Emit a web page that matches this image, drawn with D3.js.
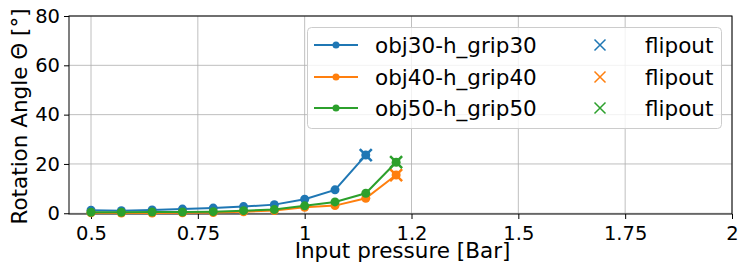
<!DOCTYPE html>
<html>
<head>
<meta charset="utf-8">
<script src="https://cdn.jsdelivr.net/npm/d3@7"></script>
<style>
  body { margin: 0; background: #fff; }
  svg { display: block; font-family: "DejaVu Sans", sans-serif; }
</style>
</head>
<body>
<div class="container"></div>
<script>
const WIDTH = 748;
const HEIGHT = 278;
const LEFT = 69, RIGHT = 732, TOP = 16, BOTTOM = 214;

// input pressure [Bar]
var pressure = [0.5, 0.571, 0.643, 0.714, 0.786, 0.857, 0.929, 1.0, 1.071, 1.143, 1.214];
var obj30 = [1.2, 1.05, 1.3, 1.7, 2.1, 2.7, 3.5, 5.7, 9.5, 23.6];
var obj40 = [0.2, 0.1, 0.1, 0.2, 0.3, 0.6, 1.1, 2.4, 3.1, 6.1, 15.5];
var obj50 = [0.4, 0.4, 0.5, 0.5, 0.65, 1.05, 1.5, 3.0, 4.6, 8.1, 20.7];
var seriesNames = ["obj30-h_grip30", "obj40-h_grip40", "obj50-h_grip50"];
var colors = ["#1f77b4", "#ff7f0e", "#2ca02c"];
// flipout points: [pressure, angle]
var flipout = [[1.143, 23.6], [1.214, 15.5], [1.214, 20.7]];
var xTicks = [0.5, 0.75, 1, 1.25, 1.5, 1.75, 2];
var xTickLabels = ["0.5", "0.75", "1", "1.2", "1.5", "1.75", "2"];
var yTicks = [0, 20, 40, 60, 80];

var x = d3.scaleLinear().domain([0.4485, 2]).range([LEFT, RIGHT]);
var y = d3.scaleLinear().domain([-0.3, 80]).range([BOTTOM, TOP]);

var svg = d3.select(".container").append("svg")
    .attr("width", WIDTH)
    .attr("height", HEIGHT);

// grid
svg.append("g").selectAll("line").data(xTicks).enter().append("line")
    .attr("x1", d => x(d)).attr("x2", d => x(d))
    .attr("y1", TOP).attr("y2", BOTTOM)
    .attr("stroke", "#b0b0b0").attr("stroke-width", 1).attr("opacity", 0.8);
svg.append("g").selectAll("line").data(yTicks).enter().append("line")
    .attr("x1", LEFT).attr("x2", RIGHT)
    .attr("y1", d => y(d)).attr("y2", d => y(d))
    .attr("stroke", "#b0b0b0").attr("stroke-width", 1).attr("opacity", 0.8);

// axes
var xAxis = svg.append("g")
    .attr("transform", "translate(0," + BOTTOM + ")")
    .call(d3.axisBottom(x).tickValues(xTicks)
        .tickFormat((d, i) => xTickLabels[i]).tickSizeOuter(0).tickSize(5).tickPadding(7));
var yAxis = svg.append("g")
    .attr("transform", "translate(" + LEFT + ",0)")
    .call(d3.axisLeft(y).tickValues(yTicks).tickSizeOuter(0).tickSize(5).tickPadding(4));
[xAxis, yAxis].forEach(function(g){
    g.select(".domain").remove();
    g.selectAll("text").attr("font-size", 19.5).attr("font-family", "DejaVu Sans").attr("fill", "#000");
    g.selectAll("line").attr("stroke", "#000");
});

// spines
svg.append("rect")
    .attr("x", LEFT).attr("y", TOP)
    .attr("width", RIGHT - LEFT).attr("height", BOTTOM - TOP)
    .attr("fill", "none").attr("stroke", "#000").attr("stroke-width", 1);

// flipout crosses
function cross(g, cx, cy, s, color, w){
    g.append("path")
        .attr("d", "M" + (cx - s) + "," + (cy - s) + "L" + (cx + s) + "," + (cy + s) +
                   "M" + (cx - s) + "," + (cy + s) + "L" + (cx + s) + "," + (cy - s))
        .attr("stroke", color).attr("stroke-width", w).attr("fill", "none");
}
var fg = svg.append("g");
flipout.forEach(function(p, i){ cross(fg, x(p[0]), y(p[1]), 6, colors[i], 2.5); });

// lines
var allSeries = [obj30, obj40, obj50];
var line = d3.line().x((d, i) => x(pressure[i])).y(d => y(d));
allSeries.forEach(function(vals, s){
    var g = svg.append("g");
    g.append("path").datum(vals)
        .attr("d", line)
        .attr("fill", "none").attr("stroke", colors[s]).attr("stroke-width", 2);
    g.selectAll("circle").data(vals).enter().append("circle")
        .attr("cx", (d, i) => x(pressure[i])).attr("cy", d => y(d))
        .attr("r", 4.5).attr("fill", colors[s]);
});

// legend
var lg = svg.append("g");
lg.append("rect")
    .attr("x", 307.5).attr("y", 27.5).attr("width", 414).attr("height", 101)
    .attr("rx", 4).attr("fill", "#fff").attr("fill-opacity", 0.8)
    .attr("stroke", "#cccccc").attr("stroke-width", 1);
var rowY = [45, 77, 108];
seriesNames.forEach(function(name, i){
    var yy = rowY[i];
    lg.append("line").attr("x1", 314).attr("x2", 358).attr("y1", yy).attr("y2", yy)
        .attr("stroke", colors[i]).attr("stroke-width", 2);
    lg.append("circle").attr("cx", 336).attr("cy", yy).attr("r", 3.5).attr("fill", colors[i]);
    lg.append("text").attr("x", 375).attr("y", yy + 7.5)
        .attr("font-size", 21.5).text(name);
    cross(lg, 600, yy, 5.5, colors[i], 1.5);
    lg.append("text").attr("x", 645).attr("y", yy + 7.5)
        .attr("font-size", 21.5).text("flipout");
});

// axis labels
svg.append("text")
    .attr("x", (LEFT + RIGHT) / 2 + 2).attr("y", 258)
    .attr("text-anchor", "middle").attr("font-size", 21.5)
    .text("Input pressure [Bar]");
svg.append("text")
    .attr("transform", "translate(27," + 116.5 + ") rotate(-90)")
    .attr("text-anchor", "middle").attr("font-size", 21.5)
    .text("Rotation Angle \u0398  [\u00b0]");
</script>
</body>
</html>
